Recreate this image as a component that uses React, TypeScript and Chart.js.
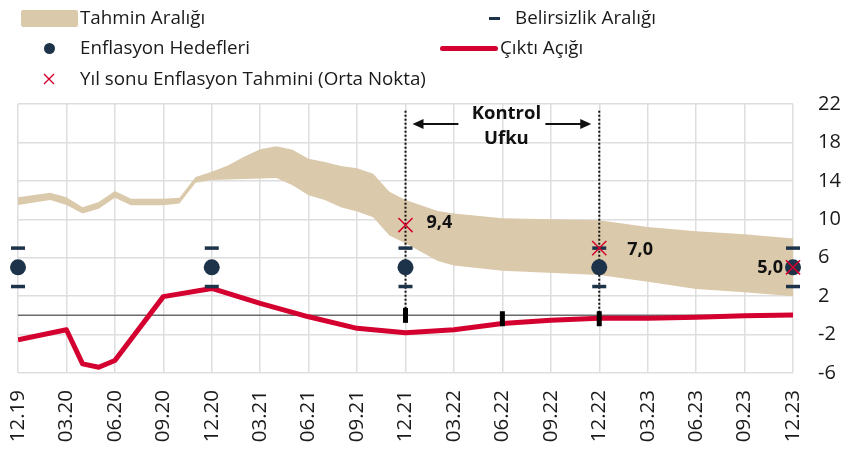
import React, { useEffect, useRef } from "react";
import { Chart, registerables } from "chart.js";

Chart.register(...registerables);

// ---- data ----
const quarterLabels = ["12.19","03.20","06.20","09.20","12.20","03.21","06.21","09.21","12.21","03.22","06.22","09.22","12.22","03.23","06.23","09.23","12.23"];

const bandMonths = [0, 2, 3, 4, 5, 6, 7, 9, 10, 11, 12, 13, 14, 15, 16, 17, 18, 19, 20, 21, 22, 23, 24, 26, 27, 30, 36, 39, 42, 45, 48];
const bandUpper = [12.3, 12.75, 12.3, 11.25, 11.8, 12.95, 12.15, 12.15, 12.25, 14.4, 14.95, 15.6, 16.5, 17.3, 17.6, 17.25, 16.3, 15.95, 15.55, 15.3, 14.75, 12.86, 12.0, 10.85, 10.6, 10.1, 9.9, 9.2, 8.75, 8.45, 8.0];
const bandLower = [11.5, 12.0, 11.5, 10.6, 11.1, 12.25, 11.45, 11.45, 11.65, 13.8, 14.1, 14.15, 14.2, 14.25, 14.3, 13.55, 12.5, 12.0, 11.25, 10.8, 10.2, 8.3, 7.5, 5.65, 5.2, 4.65, 4.2, 3.5, 2.75, 2.4, 2.0];

const outputMonths = [0, 3, 4, 5, 6, 9, 12, 15, 18, 21, 24, 27, 30, 33, 36, 39, 42, 45, 48];
const outputGap = [-2.55, -1.5, -5.05, -5.4, -4.7, 1.95, 2.8, 1.25, -0.15, -1.35, -1.8, -1.5, -0.85, -0.5, -0.3, -0.3, -0.2, -0.05, 0.05];

const targetMonths = [0, 12, 24, 36, 48];
const targets = [5, 5, 5, 5, 5];
const uncertaintyHigh = [7, 7, 7, 7, 7];
const uncertaintyLow = [3, 3, 3, 3, 3];

const yearEndMonths = [24, 36, 48];
const yearEndForecast = [9.4, 7.0, 5.0];

const controlMonths = [24, 36];
const controlTop = 21.3;
const controlBottom = 0;
const controlMarkMonths = [24, 30, 36];
const controlMarkValues = [0, -0.35, -0.35];

const zeroMonths = [0, 48];
const zeroValues = [0, 0];

const yTicks = [-6, -2, 2, 6, 10, 14, 18, 22];

// ---- styles ----
const BAND = "#dbc9ab";
const RED = "#d4002f";
const NAVY = "#1d3349";
const FONT = '"Open Sans", sans-serif';

const pts = (xs: number[], ys: number[]) => xs.map((x, i) => ({ x, y: ys[i] }));

const labelOffsets = [
  { dx: 21, dy: -2.5, align: "left" },
  { dx: 28, dy: 2, align: "left" },
  { dx: -10, dy: 1, align: "right" },
];

const annotPlugin = {
  id: "annot",
  afterDatasetsDraw(chart: any) {
    const ctx = chart.ctx;
    const xs = chart.scales.x;
    const ys = chart.scales.y;
    ctx.save();
    // year-end labels
    ctx.font = `bold 18px ${FONT}`;
    ctx.fillStyle = "#111";
    ctx.textBaseline = "middle";
    yearEndMonths.forEach((m, i) => {
      const o = labelOffsets[i];
      ctx.textAlign = o.align;
      ctx.fillText(yearEndForecast[i].toFixed(1).replace(".", ","), xs.getPixelForValue(m) + o.dx, ys.getPixelForValue(yearEndForecast[i]) + o.dy);
    });
    // Kontrol Ufku
    const x1 = xs.getPixelForValue(controlMonths[0]);
    const x2 = xs.getPixelForValue(controlMonths[1]);
    const cx = (x1 + x2) / 2 + 4;
    ctx.font = `bold 18.5px ${FONT}`;
    ctx.textAlign = "center";
    ctx.fillText("Kontrol", cx, 114);
    ctx.fillText("Ufku", cx, 139);
    const ay = 124;
    ctx.strokeStyle = "#111";
    ctx.lineWidth = 2;
    const arrow = (from: number, to: number) => {
      const dir = Math.sign(to - from);
      ctx.beginPath();
      ctx.moveTo(from, ay);
      ctx.lineTo(to - dir * 8, ay);
      ctx.stroke();
      ctx.beginPath();
      ctx.moveTo(to, ay);
      ctx.lineTo(to - dir * 11, ay - 5);
      ctx.lineTo(to - dir * 11, ay + 5);
      ctx.closePath();
      ctx.fillStyle = "#111";
      ctx.fill();
    };
    arrow(cx - 48, x1 + 7);
    arrow(cx + 39, x2 - 8);
    ctx.restore();
  },
};

export default function App() {
  const ref = useRef<HTMLCanvasElement | null>(null);
  useEffect(() => {
    if (!ref.current) return;
    const chart = new Chart(ref.current, {
      type: "line",
      data: {
        datasets: [
          {
            label: "Yıl sonu Enflasyon Tahmini (Orta Nokta)",
            data: pts(yearEndMonths, yearEndForecast),
            showLine: false,
            pointStyle: "crossRot",
            pointRadius: 10,
            borderColor: RED,
            backgroundColor: RED,
            pointBorderWidth: 1.5,
            clip: false,
            order: 0,
          } as any,
          {
            label: "Enflasyon Hedefleri",
            data: pts(targetMonths, targets),
            showLine: false,
            pointStyle: "circle",
            pointRadius: 8,
            pointBorderWidth: 0,
            backgroundColor: NAVY,
            borderColor: NAVY,
            clip: false,
            order: 1,
          } as any,
          {
            label: "Belirsizlik Aralığı",
            data: pts(targetMonths, uncertaintyHigh).concat(pts(targetMonths, uncertaintyLow)),
            showLine: false,
            pointStyle: "line",
            pointRadius: 7,
            pointBorderWidth: 3.5,
            borderColor: NAVY,
            backgroundColor: NAVY,
            clip: false,
            order: 2,
          } as any,
          {
            label: "controlMarks",
            data: pts(controlMarkMonths, controlMarkValues),
            showLine: false,
            pointStyle: "line",
            pointRotation: 90,
            pointRadius: 7.5,
            pointBorderWidth: 5,
            borderColor: "#000",
            backgroundColor: "#000",
            order: 3,
          } as any,
          ...controlMonths.map((m) => ({
            label: "control",
            data: [{ x: m, y: controlTop }, { x: m, y: controlBottom }],
            borderColor: "#111",
            borderWidth: 2,
            borderDash: [2, 2],
            pointRadius: 0,
            order: 4,
          })),
          {
            label: "Çıktı Açığı",
            data: pts(outputMonths, outputGap),
            borderColor: RED,
            borderWidth: 5,
            pointRadius: 0,
            tension: 0,
            borderJoinStyle: "round",
            order: 5,
          } as any,
          {
            label: "zero",
            data: pts(zeroMonths, zeroValues),
            borderColor: "#6b6b6b",
            borderWidth: 1.5,
            pointRadius: 0,
            order: 6,
          },
          {
            label: "lower",
            data: pts(bandMonths, bandLower),
            borderWidth: 0,
            pointRadius: 0,
            fill: false,
            order: 8,
          },
          {
            label: "Tahmin Aralığı",
            data: pts(bandMonths, bandUpper),
            borderWidth: 0,
            pointRadius: 0,
            backgroundColor: BAND,
            borderColor: BAND,
            fill: "-1",
            order: 7,
          } as any,
        ],
      },
      options: {
        responsive: false,
        animation: false,
        parsing: true,
        layout: { padding: { left: 18, top: 104, right: 0, bottom: 0 } },
        plugins: { legend: { display: false }, tooltip: { enabled: false } },
        scales: {
          x: {
            type: "linear",
            min: 0,
            max: 48,
            afterFit: (s: any) => { s.height = 85; },
            grid: { color: "#dedede", lineWidth: 1.5, drawTicks: false },
            border: { display: false },
            ticks: {
              stepSize: 3,
              autoSkip: false,
              maxRotation: 90,
              minRotation: 90,
              padding: 17,
              color: "#1a1a1a",
              font: { family: FONT, size: 20.5 },
              callback: (v: any) => quarterLabels[Math.round(Number(v) / 3)],
            },
          },
          y: {
            position: "right",
            min: yTicks[0],
            max: yTicks[yTicks.length - 1],
            afterFit: (s: any) => { s.width = 54; },
            grid: { color: "#dedede", lineWidth: 1.5, drawTicks: false },
            border: { display: false },
            ticks: {
              stepSize: 4,
              padding: 25,
              color: "#1a1a1a",
              font: { family: FONT, size: 20 },
            },
          },
        },
      } as any,
      plugins: [annotPlugin],
    });
    return () => chart.destroy();
  }, []);

  const text: React.CSSProperties = {
    position: "absolute",
    fontSize: 18.8,
    lineHeight: "18.8px",
    color: "#1a1a1a",
    whiteSpace: "nowrap",
    fontFamily: FONT,
  };
  const rowTop = (c: number) => c - 10;

  return (
    <div style={{ position: "fixed", left: 0, top: 0, width: 847, height: 458, background: "#fff" }}>
      <canvas ref={ref} width={847} height={458} style={{ position: "absolute", left: 0, top: 0 }} />
      {/* legend */}
      <div style={{ position: "absolute", left: 21, top: 10, width: 57, height: 17, background: BAND, borderRadius: 2 }} />
      <div style={{ ...text, left: 80, top: rowTop(17.5) }}>Tahmin Aralığı</div>
      <div style={{ position: "absolute", left: 43.5, top: 42.5, width: 11, height: 11, borderRadius: "50%", background: NAVY }} />
      <div style={{ ...text, left: 80, top: rowTop(48) }}>Enflasyon Hedefleri</div>
      <svg style={{ position: "absolute", left: 43, top: 73 }} width={12} height={12}>
        <path d="M1 1 L11 11 M11 1 L1 11" stroke={RED} strokeWidth={1.4} />
      </svg>
      <div style={{ ...text, left: 80, top: rowTop(78.5) }}>Yıl sonu Enflasyon Tahmini (Orta Nokta)</div>
      <div style={{ position: "absolute", left: 489, top: 16.5, width: 11, height: 3.5, background: NAVY }} />
      <div style={{ ...text, left: 515, top: rowTop(17.5) }}>Belirsizlik Aralığı</div>
      <div style={{ position: "absolute", left: 440, top: 46, width: 58, height: 5, borderRadius: 3, background: RED }} />
      <div style={{ ...text, left: 500, top: rowTop(48) }}>Çıktı Açığı</div>
    </div>
  );
}
